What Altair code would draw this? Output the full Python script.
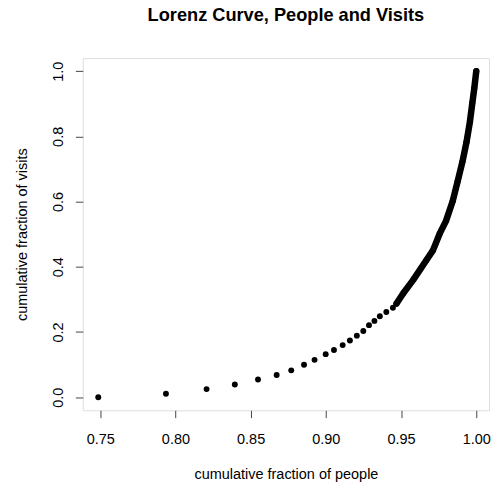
import altair as alt
import pandas as pd

# Discrete points of the Lorenz curve
people_sparse = [0.7487, 0.7937, 0.8207, 0.8395, 0.8549, 0.8673, 0.8770, 0.8855,
                 0.8925, 0.8999, 0.9054, 0.9112, 0.9160, 0.9206, 0.9249, 0.9287,
                 0.9323, 0.9359, 0.9402, 0.9446]
visits_sparse = [0.0000, 0.0109, 0.0250, 0.0392, 0.0543, 0.0682, 0.0824, 0.0995,
                 0.1146, 0.1321, 0.1448, 0.1599, 0.1738, 0.1888, 0.2030, 0.2211,
                 0.2341, 0.2483, 0.2612, 0.2745]

# Dense tail of the curve (points so close they form a solid band)
people_dense = [0.9470, 0.9516, 0.9581, 0.9668, 0.9712, 0.9756, 0.9799, 0.9843,
                0.9876, 0.9908, 0.9935, 0.9957, 0.9974, 0.9987, 1.0000]
visits_dense = [0.2875, 0.3198, 0.3599, 0.4202, 0.4504, 0.5008, 0.5409, 0.6012,
                0.6615, 0.7219, 0.7822, 0.8425, 0.9029, 0.9481, 1.0000]

x_ticks = [0.75, 0.80, 0.85, 0.90, 0.95, 1.00]
y_ticks = [0.0, 0.2, 0.4, 0.6, 0.8, 1.0]

df_pts = pd.DataFrame({
    "x": people_sparse + people_dense,
    "y": visits_sparse + visits_dense,
})
df_dense = pd.DataFrame({
    "x": people_dense,
    "y": visits_dense,
    "i": list(range(len(people_dense))),
})

FONT = "Liberation Sans"
W, H = 413, 358

xscale = alt.Scale(domain=[0.7384, 1.0085], nice=False, zero=False)
yscale = alt.Scale(domain=[-0.04, 1.04], nice=False, zero=False)

xaxis = alt.Axis(
    values=x_ticks, format=".2f", domain=False, grid=False,
    tickSize=7.5, tickColor="#444", tickWidth=1,
    labelFont=FONT, labelFontSize=14.7, labelColor="#000",
    labelBaseline="middle", labelPadding=22, labelFlush=False,
    title="cumulative fraction of people", titleFont=FONT, titleFontSize=14.7,
    titleFontWeight="normal", titleColor="#000",
    titleX=W / 2, titleY=65.4, titleAlign="center", titleBaseline="middle",
)
yaxis = alt.Axis(
    values=y_ticks, format=".1f", domain=False, grid=False,
    tickSize=7.5, tickColor="#444", tickWidth=1,
    labelFont=FONT, labelFontSize=14.7, labelColor="#000",
    labelAngle=270, labelAlign="center", labelBaseline="middle",
    labelPadding=17, labelFlush=False,
    title="cumulative fraction of visits", titleFont=FONT, titleFontSize=14.7,
    titleFontWeight="normal", titleColor="#000",
    titleAngle=270, titleX=-61.5, titleY=H / 2, titleAlign="center",
    titleBaseline="middle",
)

pts = alt.Chart(df_pts).mark_circle(size=36, color="#000", opacity=1).encode(
    x=alt.X("x:Q", scale=xscale, axis=xaxis),
    y=alt.Y("y:Q", scale=yscale, axis=yaxis),
)
band = alt.Chart(df_dense).mark_line(
    color="#000", strokeWidth=6.6, strokeCap="round", strokeJoin="round"
).encode(
    x=alt.X("x:Q", scale=xscale),
    y=alt.Y("y:Q", scale=yscale),
    order=alt.Order("i:Q"),
)

chart = (
    alt.layer(band, pts)
    .properties(
        width=W, height=H,
        title=alt.TitleParams(
            "Lorenz Curve, People and Visits", font=FONT, fontSize=18.5,
            fontWeight="bold", color="#000", anchor="middle",
            baseline="alphabetic", offset=19,
        ),
        autosize=alt.AutoSizeParams(type="none"),
        padding={"left": 76, "top": 47, "right": 3, "bottom": 70},
    )
    .configure_view(stroke="#444", strokeWidth=1)
    .configure(background="white")
)

chart.save("out.html", embed_options={"renderer": "svg", "actions": False})
